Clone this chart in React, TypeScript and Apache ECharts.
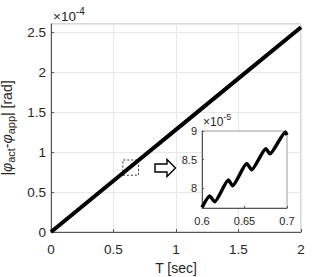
import React, { useEffect, useRef } from "react";
import * as echarts from "echarts";

// main plot (y in units of 1e-4 rad)
const mainT = [0, 0.5, 1, 1.5, 2];
const mainErr = [0, 0.64, 1.28, 1.92, 2.56];
const mainXTicks = [0, 0.5, 1, 1.5, 2];

// inset zoom (y in units of 1e-5 rad)
const insetT = [0.6, 0.609, 0.615, 0.631, 0.636, 0.6526, 0.6585, 0.675, 0.68, 0.698, 0.7];
const insetErr = [7.66, 7.86, 7.76, 8.14, 8.04, 8.43, 8.32, 8.69, 8.6, 8.98, 8.93];
const insetXTicks = [0.6, 0.65, 0.7];
const insetYTicks = [8, 8.5, 9];

// zoom window marked on the main plot
const zoomBoxX = [0.575, 0.7];
const zoomBoxY = [0.71, 0.9];

const FONT = "Liberation Sans";
const TXT = "#262626";

export default function App() {
  const ref = useRef<HTMLDivElement>(null);
  useEffect(() => {
    const chart = echarts.init(ref.current!, null, { renderer: "svg" });
    const mainData = mainT.map((t, i) => [t, mainErr[i]]);
    const insetData = insetT.map((t, i) => [t, insetErr[i]]);
    chart.setOption({
      animation: false,
      backgroundColor: "#fff",
      textStyle: { fontFamily: FONT },
      grid: [
        { left: 51, right: 31, top: 24, bottom: 45, show: true, borderColor: "#b0b0b0", borderWidth: 1, backgroundColor: "#fff", containLabel: false, outerBoundsMode: "none" },
        { left: 202, top: 131, width: 85, height: 77, show: true, borderColor: "#9a9a9a", borderWidth: 1, backgroundColor: "#fff", z: 5, containLabel: false, outerBoundsMode: "none" },
      ],
      xAxis: [
        {
          gridIndex: 0, type: "value", min: 0, max: 2, interval: 0.5,
          name: "T [sec]", nameLocation: "middle", nameGap: 27,
          nameTextStyle: { fontSize: 14, color: TXT, fontFamily: FONT },
          axisLine: { show: true, lineStyle: { color: "#555", width: 1 } },
          axisTick: { show: true, inside: true, length: 3, lineStyle: { color: "#555" } },
          axisLabel: { fontSize: 13.5, color: TXT, margin: 10, fontFamily: FONT, customValues: mainXTicks },
          splitLine: { show: true, lineStyle: { color: "#e8e8e8", width: 1 } },
        },
        {
          gridIndex: 1, type: "value", min: 0.6, max: 0.7, z: 6,
          axisLine: { show: true, lineStyle: { color: "#555", width: 1 } },
          axisTick: { show: true, inside: true, length: 2, customValues: insetXTicks, lineStyle: { color: "#555" } },
          axisLabel: { fontSize: 11, color: TXT, margin: 7, fontFamily: FONT, customValues: insetXTicks },
          splitLine: { show: false },
        },
      ],
      yAxis: [
        {
          gridIndex: 0, type: "value", min: 0, max: 2.6, interval: 0.5,
          name: "{a||}{phi|φ}{sub|act}{a|-}{phi|φ}{sub|app}{a|| [rad]}",
          nameLocation: "middle", nameGap: 26, nameRotate: 90,
          nameTextStyle: {
            color: TXT, fontFamily: FONT, fontSize: 14,
            rich: {
              a: { fontSize: 14, color: TXT, fontFamily: FONT, lineHeight: 18, verticalAlign: "middle" },
              phi: { fontSize: 14, color: TXT, fontFamily: FONT, fontStyle: "italic", lineHeight: 18, verticalAlign: "middle" },
              sub: { fontSize: 11, color: TXT, fontFamily: FONT, lineHeight: 18, verticalAlign: "bottom" },
            },
          },
          axisLine: { show: true, lineStyle: { color: "#555", width: 1 } },
          axisTick: { show: true, inside: true, length: 3, lineStyle: { color: "#555" } },
          axisLabel: { fontSize: 13.5, color: TXT, margin: 5, fontFamily: FONT, showMaxLabel: false },
          splitLine: { show: true, lineStyle: { color: "#e8e8e8", width: 1 } },
        },
        {
          gridIndex: 1, type: "value", min: 7.65, max: 9, z: 6,
          axisLine: { show: true, lineStyle: { color: "#555", width: 1 } },
          axisTick: { show: true, inside: true, length: 2, customValues: insetYTicks, lineStyle: { color: "#555" } },
          axisLabel: { fontSize: 11, color: TXT, margin: 5, fontFamily: FONT, customValues: insetYTicks },
          splitLine: { show: false },
        },
      ],
      series: [
        {
          type: "line", xAxisIndex: 0, yAxisIndex: 0, data: mainData, symbol: "none",
          lineStyle: { color: "#000", width: 4 }, z: 3,
          markArea: {
            silent: true,
            itemStyle: { color: "rgba(0,0,0,0)", borderColor: "#000", borderWidth: 0.8, borderType: [2, 2] },
            data: [[{ coord: [zoomBoxX[0], zoomBoxY[0]] }, { coord: [zoomBoxX[1], zoomBoxY[1]] }]],
          },
        },
        {
          type: "line", xAxisIndex: 1, yAxisIndex: 1, data: insetData, symbol: "none", smooth: 0.18,
          lineStyle: { color: "#000", width: 3.5 }, z: 7, clip: true,
        },
      ],
      graphic: [
        {
          type: "text", left: 53, top: 6, z: 10,
          style: {
            text: "{a|×10}{s|-4}",
            rich: {
              a: { fontSize: 13.5, fill: TXT, fontFamily: FONT, lineHeight: 17, verticalAlign: "bottom" },
              s: { fontSize: 10, fill: TXT, fontFamily: FONT, lineHeight: 17, verticalAlign: "top", padding: [0, 0, 7, 0] },
            },
          },
        },
        {
          type: "text", left: 203, top: 112, z: 10,
          style: {
            text: "{a|×10}{s|-5}",
            rich: {
              a: { fontSize: 12, fill: TXT, fontFamily: FONT, lineHeight: 16, verticalAlign: "bottom" },
              s: { fontSize: 9, fill: TXT, fontFamily: FONT, lineHeight: 16, verticalAlign: "top", padding: [0, 0, 6, 0] },
            },
          },
        },
        {
          type: "polygon", z: 10,
          shape: { points: [[155, 164], [167, 164], [167, 159.5], [175.5, 168], [167, 176.5], [167, 172], [155, 172]] },
          style: { fill: "#fff", stroke: "#000", lineWidth: 1.4 },
        },
      ],
    });
    return () => chart.dispose();
  }, []);
  return <div ref={ref} style={{ position: "fixed", left: 0, top: 0, width: 332, height: 277 }} />;
}
